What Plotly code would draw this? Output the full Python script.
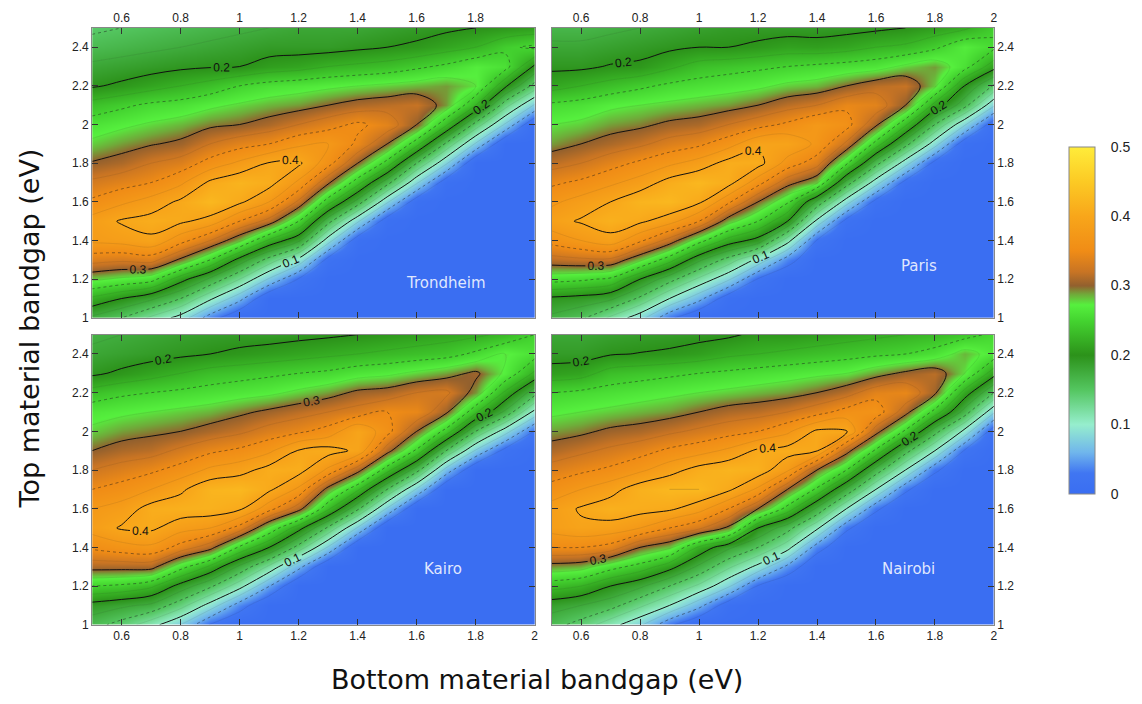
import numpy as np
import plotly.graph_objects as go

# ---------------- data ----------------
bottom_gap = [0.5, 0.6, 0.7, 0.8, 0.9, 1.0, 1.1, 1.2, 1.3, 1.4, 1.5, 1.6, 1.7, 1.8, 1.9, 2.0]
top_gap = [1.0, 1.1, 1.2, 1.3, 1.4, 1.5, 1.6, 1.7, 1.8, 1.9, 2.0, 2.1, 2.2, 2.3, 2.4, 2.5]

x_tickvals = [0.6, 0.8, 1.0, 1.2, 1.4, 1.6, 1.8, 2.0]
x_ticktext = ["0.6", "0.8", "1", "1.2", "1.4", "1.6", "1.8", "2"]
y_tickvals = [1.0, 1.2, 1.4, 1.6, 1.8, 2.0, 2.2, 2.4]
y_ticktext = ["1", "1.2", "1.4", "1.6", "1.8", "2", "2.2", "2.4"]
cbar_tickvals = [0, 0.1, 0.2, 0.3, 0.4, 0.5]
cbar_ticktext = ["0", "0.1", "0.2", "0.3", "0.4", "0.5"]

cities = ["Trondheim", "Paris", "Kairo", "Nairobi"]

# efficiency, one list per bottom bandgap (columns), values for increasing top bandgap
trondheim_cols = [
    [0.17, 0.22, 0.28, 0.335, 0.38, 0.385, 0.355, 0.33, 0.302, 0.28, 0.262, 0.235, 0.197, 0.18, 0.16, 0.145],
    [0.15, 0.2, 0.27, 0.33, 0.385, 0.403, 0.37, 0.34, 0.31, 0.29, 0.27, 0.245, 0.205, 0.185, 0.165, 0.15],
    [0.12, 0.18, 0.26, 0.335, 0.395, 0.41, 0.385, 0.35, 0.325, 0.298, 0.278, 0.255, 0.215, 0.19, 0.17, 0.155],
    [0.09, 0.15, 0.21, 0.295, 0.36, 0.405, 0.405, 0.37, 0.335, 0.305, 0.285, 0.26, 0.225, 0.195, 0.175, 0.16],
    [0.037, 0.105, 0.17, 0.25, 0.325, 0.39, 0.425, 0.405, 0.36, 0.325, 0.295, 0.27, 0.235, 0.198, 0.18, 0.165],
    [0.0, 0.058, 0.125, 0.19, 0.28, 0.35, 0.405, 0.42, 0.38, 0.34, 0.3, 0.278, 0.25, 0.2, 0.185, 0.17],
    [0.0, 0.0, 0.072, 0.14, 0.22, 0.315, 0.375, 0.41, 0.402, 0.35, 0.31, 0.285, 0.26, 0.21, 0.19, 0.175],
    [0.0, 0.0, 0.023, 0.093, 0.18, 0.25, 0.32, 0.37, 0.405, 0.37, 0.325, 0.29, 0.265, 0.215, 0.19, 0.18],
    [0.0, 0.0, 0.0, 0.016, 0.086, 0.16, 0.235, 0.305, 0.36, 0.375, 0.34, 0.3, 0.27, 0.225, 0.19, 0.18],
    [0.0, 0.0, 0.0, 0.0, 0.009, 0.079, 0.165, 0.235, 0.3, 0.345, 0.355, 0.31, 0.275, 0.23, 0.195, 0.18],
    [0.0, 0.0, 0.0, 0.0, 0.0, 0.009, 0.079, 0.16, 0.24, 0.3, 0.34, 0.315, 0.28, 0.235, 0.2, 0.185],
    [0.0, 0.0, 0.0, 0.0, 0.0, 0.0, 0.009, 0.079, 0.15, 0.235, 0.3, 0.32, 0.285, 0.245, 0.205, 0.19],
    [0.0, 0.0, 0.0, 0.0, 0.0, 0.0, 0.0, 0.009, 0.079, 0.145, 0.23, 0.29, 0.29, 0.255, 0.215, 0.195],
    [0.0, 0.0, 0.0, 0.0, 0.0, 0.0, 0.0, 0.0, 0.0, 0.072, 0.14, 0.225, 0.275, 0.27, 0.225, 0.2],
    [0.0, 0.0, 0.0, 0.0, 0.0, 0.0, 0.0, 0.0, 0.0, 0.0, 0.072, 0.135, 0.205, 0.26, 0.245, 0.205],
    [0.0, 0.0, 0.0, 0.0, 0.0, 0.0, 0.0, 0.0, 0.0, 0.0, 0.0, 0.072, 0.14, 0.195, 0.255, 0.21],
]

paris_cols = [
    [0.17, 0.195, 0.26, 0.315, 0.36, 0.39, 0.37, 0.345, 0.315, 0.29, 0.275, 0.255, 0.215, 0.195, 0.18, 0.165],
    [0.155, 0.19, 0.255, 0.32, 0.375, 0.403, 0.385, 0.355, 0.325, 0.3, 0.28, 0.26, 0.225, 0.195, 0.18, 0.165],
    [0.12, 0.18, 0.245, 0.32, 0.39, 0.415, 0.4, 0.37, 0.34, 0.31, 0.29, 0.27, 0.235, 0.202, 0.185, 0.17],
    [0.085, 0.145, 0.2, 0.28, 0.355, 0.405, 0.42, 0.385, 0.355, 0.32, 0.295, 0.275, 0.245, 0.205, 0.19, 0.175],
    [0.03, 0.1, 0.16, 0.235, 0.315, 0.385, 0.425, 0.41, 0.37, 0.335, 0.305, 0.28, 0.255, 0.22, 0.195, 0.18],
    [0.0, 0.058, 0.12, 0.18, 0.26, 0.35, 0.405, 0.425, 0.385, 0.345, 0.31, 0.285, 0.26, 0.235, 0.2, 0.185],
    [0.0, 0.009, 0.079, 0.14, 0.215, 0.285, 0.355, 0.41, 0.41, 0.365, 0.325, 0.29, 0.265, 0.24, 0.2, 0.19],
    [0.0, 0.0, 0.023, 0.093, 0.19, 0.25, 0.3, 0.36, 0.41, 0.395, 0.34, 0.3, 0.27, 0.245, 0.205, 0.19],
    [0.0, 0.0, 0.0, 0.037, 0.11, 0.2, 0.255, 0.31, 0.365, 0.395, 0.355, 0.315, 0.28, 0.25, 0.212, 0.19],
    [0.0, 0.0, 0.0, 0.0, 0.023, 0.093, 0.17, 0.28, 0.335, 0.37, 0.375, 0.325, 0.285, 0.255, 0.21, 0.19],
    [0.0, 0.0, 0.0, 0.0, 0.0, 0.016, 0.086, 0.165, 0.255, 0.32, 0.36, 0.345, 0.3, 0.26, 0.215, 0.192],
    [0.0, 0.0, 0.0, 0.0, 0.0, 0.0, 0.016, 0.086, 0.16, 0.24, 0.305, 0.34, 0.315, 0.265, 0.225, 0.195],
    [0.0, 0.0, 0.0, 0.0, 0.0, 0.0, 0.0, 0.016, 0.086, 0.16, 0.23, 0.3, 0.32, 0.28, 0.23, 0.2],
    [0.0, 0.0, 0.0, 0.0, 0.0, 0.0, 0.0, 0.0, 0.016, 0.086, 0.15, 0.215, 0.28, 0.29, 0.245, 0.21],
    [0.0, 0.0, 0.0, 0.0, 0.0, 0.0, 0.0, 0.0, 0.0, 0.009, 0.079, 0.16, 0.2, 0.26, 0.27, 0.22],
    [0.0, 0.0, 0.0, 0.0, 0.0, 0.0, 0.0, 0.0, 0.0, 0.0, 0.009, 0.079, 0.145, 0.21, 0.255, 0.245],
]

kairo_cols = [
    [0.16, 0.19, 0.25, 0.31, 0.355, 0.385, 0.375, 0.35, 0.325, 0.3, 0.28, 0.265, 0.235, 0.195, 0.18, 0.17],
    [0.14, 0.18, 0.245, 0.31, 0.365, 0.403, 0.385, 0.36, 0.335, 0.31, 0.29, 0.27, 0.245, 0.205, 0.185, 0.175],
    [0.11, 0.17, 0.23, 0.31, 0.37, 0.405, 0.41, 0.375, 0.345, 0.315, 0.295, 0.275, 0.25, 0.215, 0.19, 0.18],
    [0.075, 0.135, 0.19, 0.26, 0.34, 0.385, 0.415, 0.395, 0.36, 0.33, 0.3, 0.28, 0.255, 0.225, 0.195, 0.185],
    [0.023, 0.09, 0.155, 0.22, 0.31, 0.375, 0.415, 0.42, 0.38, 0.345, 0.31, 0.285, 0.26, 0.235, 0.2, 0.188],
    [0.0, 0.037, 0.11, 0.17, 0.245, 0.34, 0.405, 0.425, 0.39, 0.355, 0.32, 0.295, 0.265, 0.24, 0.205, 0.19],
    [0.0, 0.0, 0.051, 0.12, 0.2, 0.27, 0.36, 0.405, 0.41, 0.37, 0.335, 0.305, 0.27, 0.245, 0.21, 0.19],
    [0.0, 0.0, 0.0, 0.058, 0.14, 0.21, 0.31, 0.37, 0.41, 0.402, 0.345, 0.315, 0.28, 0.25, 0.215, 0.193],
    [0.0, 0.0, 0.0, 0.0, 0.072, 0.145, 0.23, 0.29, 0.37, 0.41, 0.36, 0.325, 0.29, 0.255, 0.22, 0.196],
    [0.0, 0.0, 0.0, 0.0, 0.0, 0.072, 0.155, 0.23, 0.31, 0.395, 0.398, 0.335, 0.305, 0.265, 0.225, 0.2],
    [0.0, 0.0, 0.0, 0.0, 0.0, 0.0, 0.072, 0.15, 0.235, 0.31, 0.36, 0.35, 0.31, 0.27, 0.23, 0.205],
    [0.0, 0.0, 0.0, 0.0, 0.0, 0.0, 0.0, 0.072, 0.16, 0.245, 0.3, 0.345, 0.325, 0.28, 0.235, 0.21],
    [0.0, 0.0, 0.0, 0.0, 0.0, 0.0, 0.0, 0.0, 0.065, 0.15, 0.24, 0.305, 0.33, 0.29, 0.24, 0.215],
    [0.0, 0.0, 0.0, 0.0, 0.0, 0.0, 0.0, 0.0, 0.0, 0.072, 0.15, 0.23, 0.29, 0.305, 0.255, 0.22],
    [0.0, 0.0, 0.0, 0.0, 0.0, 0.0, 0.0, 0.0, 0.0, 0.016, 0.086, 0.17, 0.22, 0.27, 0.275, 0.23],
    [0.0, 0.0, 0.0, 0.0, 0.0, 0.0, 0.0, 0.0, 0.0, 0.0, 0.023, 0.093, 0.16, 0.22, 0.26, 0.25],
]

nairobi_cols = [
    [0.16, 0.185, 0.235, 0.29, 0.35, 0.385, 0.385, 0.36, 0.335, 0.31, 0.29, 0.27, 0.25, 0.21, 0.19, 0.18],
    [0.14, 0.175, 0.225, 0.285, 0.35, 0.395, 0.403, 0.375, 0.345, 0.32, 0.295, 0.275, 0.255, 0.215, 0.19, 0.18],
    [0.11, 0.16, 0.2, 0.26, 0.34, 0.39, 0.415, 0.39, 0.355, 0.33, 0.305, 0.28, 0.26, 0.235, 0.198, 0.185],
    [0.08, 0.13, 0.18, 0.24, 0.3, 0.375, 0.41, 0.415, 0.37, 0.34, 0.31, 0.285, 0.265, 0.24, 0.201, 0.188],
    [0.03, 0.1, 0.15, 0.21, 0.28, 0.35, 0.405, 0.425, 0.39, 0.355, 0.32, 0.29, 0.27, 0.245, 0.204, 0.19],
    [0.0, 0.058, 0.12, 0.17, 0.22, 0.33, 0.385, 0.425, 0.41, 0.365, 0.33, 0.3, 0.275, 0.25, 0.21, 0.193],
    [0.0, 0.009, 0.079, 0.13, 0.18, 0.295, 0.35, 0.405, 0.42, 0.38, 0.34, 0.31, 0.28, 0.255, 0.22, 0.196],
    [0.0, 0.0, 0.023, 0.093, 0.15, 0.2, 0.3, 0.37, 0.415, 0.405, 0.35, 0.315, 0.285, 0.26, 0.225, 0.205],
    [0.0, 0.0, 0.0, 0.044, 0.11, 0.16, 0.24, 0.3, 0.38, 0.41, 0.37, 0.325, 0.29, 0.265, 0.23, 0.205],
    [0.0, 0.0, 0.0, 0.0, 0.037, 0.105, 0.17, 0.245, 0.3, 0.402, 0.405, 0.34, 0.3, 0.27, 0.235, 0.21],
    [0.0, 0.0, 0.0, 0.0, 0.0, 0.03, 0.1, 0.17, 0.25, 0.31, 0.402, 0.36, 0.315, 0.275, 0.24, 0.215],
    [0.0, 0.0, 0.0, 0.0, 0.0, 0.0, 0.03, 0.1, 0.165, 0.245, 0.31, 0.365, 0.34, 0.29, 0.245, 0.22],
    [0.0, 0.0, 0.0, 0.0, 0.0, 0.0, 0.0, 0.03, 0.1, 0.16, 0.245, 0.31, 0.345, 0.305, 0.25, 0.225],
    [0.0, 0.0, 0.0, 0.0, 0.0, 0.0, 0.0, 0.0, 0.03, 0.1, 0.16, 0.24, 0.305, 0.315, 0.26, 0.23],
    [0.0, 0.0, 0.0, 0.0, 0.0, 0.0, 0.0, 0.0, 0.0, 0.023, 0.093, 0.165, 0.215, 0.275, 0.285, 0.24],
    [0.0, 0.0, 0.0, 0.0, 0.0, 0.0, 0.0, 0.0, 0.0, 0.0, 0.009, 0.079, 0.15, 0.21, 0.265, 0.255],
]

panel_data = [trondheim_cols, paris_cols, kairo_cols, nairobi_cols]

# ---------------- style ----------------
colorscale = [
    [0.00, "rgb(58,110,242)"],
    [0.06, "rgb(64,118,242)"],
    [0.12, "rgb(112,182,236)"],
    [0.20, "rgb(150,238,205)"],
    [0.30, "rgb(84,198,96)"],
    [0.40, "rgb(44,146,26)"],
    [0.50, "rgb(68,212,48)"],
    [0.545, "rgb(86,240,62)"],
    [0.575, "rgb(112,170,58)"],
    [0.60, "rgb(146,96,46)"],
    [0.64, "rgb(200,116,36)"],
    [0.70, "rgb(240,140,22)"],
    [0.80, "rgb(248,166,26)"],
    [0.90, "rgb(252,202,36)"],
    [1.00, "rgb(255,236,58)"],
]

x_domains = [[0.0812, 0.4711], [0.4860, 0.8757], [0.0812, 0.4711], [0.4860, 0.8757]]
y_domains = [[0.5440, 0.9600], [0.5440, 0.9600], [0.1037, 0.5199], [0.1037, 0.5199]]
x_sides = ["top", "top", "bottom", "bottom"]
y_sides = ["left", "right", "left", "right"]
label_pos = [(1.70, 1.18), (1.745, 1.27), (1.69, 1.29), (1.71, 1.29)]

tick_font = dict(family="Liberation Sans, Arial, sans-serif", size=12, color="#222")

W, H = 1142, 704
cb_left, cb_right, cb_top, cb_bottom = 1072, 1098, 148, 495

fig = go.Figure()

for i, cols in enumerate(panel_data):
    z = np.array(cols).T
    xa = "x" if i == 0 else f"x{i+1}"
    ya = "y" if i == 0 else f"y{i+1}"
    fig.add_trace(go.Heatmap(
        x=bottom_gap, y=top_gap, z=z, zsmooth="best",
        colorscale=colorscale, zmin=0, zmax=0.5,
        showscale=(i == 0), hoverinfo="skip", xaxis=xa, yaxis=ya,
        colorbar=dict(
            x=(cb_left - 6) / W, xanchor="left", xref="paper", xpad=10,
            y=1 - (cb_top + cb_bottom + 4) / 2 / H, yanchor="middle", yref="paper", ypad=10,
            thickness=cb_right - cb_left, thicknessmode="pixels",
            len=(cb_bottom - cb_top) + 20, lenmode="pixels",
            tickvals=cbar_tickvals, ticktext=cbar_ticktext,
            ticks="outside", ticklen=13, tickcolor="rgba(0,0,0,0)",
            outlinecolor="#888", outlinewidth=1,
            tickfont=dict(family="Liberation Sans, Arial, sans-serif", size=14, color="#222"),
        ),
    ))
    # faint intermediate lines
    fig.add_trace(go.Contour(
        x=bottom_gap, y=top_gap, z=z, autocontour=False,
        contours=dict(start=0.025, end=0.475, size=0.05, coloring="none"),
        line=dict(color="rgba(40,40,40,0.16)", width=0.6, smoothing=1),
        showscale=False, hoverinfo="skip", xaxis=xa, yaxis=ya,
    ))
    # dotted half levels
    fig.add_trace(go.Contour(
        x=bottom_gap, y=top_gap, z=z, autocontour=False,
        contours=dict(start=0.05, end=0.45, size=0.1, coloring="none"),
        line=dict(color="rgba(30,30,30,0.6)", width=0.8, dash="dot", smoothing=1),
        showscale=False, hoverinfo="skip", xaxis=xa, yaxis=ya,
    ))
    # labelled main levels
    fig.add_trace(go.Contour(
        x=bottom_gap, y=top_gap, z=z, autocontour=False,
        contours=dict(start=0.1, end=0.4, size=0.1, coloring="none",
                      showlabels=True, labelformat=".1f",
                      labelfont=dict(family="Liberation Sans, Arial, sans-serif", size=12, color="#111")),
        line=dict(color="#111", width=1, smoothing=1),
        showscale=False, hoverinfo="skip", xaxis=xa, yaxis=ya,
    ))

layout = dict(
    width=W, height=H,
    margin=dict(l=0, r=0, t=0, b=0),
    paper_bgcolor="white", plot_bgcolor="white",
    showlegend=False,
)

for i in range(4):
    xkey = "xaxis" if i == 0 else f"xaxis{i+1}"
    ykey = "yaxis" if i == 0 else f"yaxis{i+1}"
    xa = "x" if i == 0 else f"x{i+1}"
    ya = "y" if i == 0 else f"y{i+1}"
    xt = x_tickvals[:-1] if i == 0 else x_tickvals
    xtt = x_ticktext[:-1] if i == 0 else x_ticktext
    layout[xkey] = dict(
        domain=x_domains[i], anchor=ya, range=[0.5, 2.0], side=x_sides[i],
        tickvals=xt, ticktext=xtt, ticks="inside", ticklen=6, tickwidth=1,
        tickcolor="#333", showline=True, linecolor="#888", linewidth=1,
        mirror="ticks", showgrid=False, zeroline=False, tickfont=tick_font,
    )
    layout[ykey] = dict(
        domain=y_domains[i], anchor=xa, range=[1.0, 2.5], side=y_sides[i],
        tickvals=y_tickvals, ticktext=y_ticktext, ticks="inside", ticklen=6, tickwidth=1,
        tickcolor="#333", showline=True, linecolor="#888", linewidth=1,
        mirror="ticks", showgrid=False, zeroline=False, tickfont=tick_font,
    )

annotations = []
for i, name in enumerate(cities):
    xa = "x" if i == 0 else f"x{i+1}"
    ya = "y" if i == 0 else f"y{i+1}"
    annotations.append(dict(
        x=label_pos[i][0], y=label_pos[i][1], xref=xa, yref=ya, text=name,
        showarrow=False, xanchor="center", yanchor="middle",
        font=dict(family="DejaVu Sans, sans-serif", size=15, color="rgba(235,240,255,0.95)"),
    ))
annotations.append(dict(
    x=540 / W, y=1 - 686 / H, xref="paper", yref="paper",
    text="Bottom material bandgap (eV)", showarrow=False,
    xanchor="center", yanchor="middle",
    font=dict(family="DejaVu Sans, sans-serif", size=27, color="#111"),
))
annotations.append(dict(
    x=30 / W, y=1 - 332 / H, xref="paper", yref="paper",
    text="Top material bandgap (eV)", showarrow=False, textangle=-90,
    xanchor="center", yanchor="middle",
    font=dict(family="DejaVu Sans, sans-serif", size=27, color="#111"),
))
layout["annotations"] = annotations

fig.update_layout(**layout)
fig.write_html("out.html")
